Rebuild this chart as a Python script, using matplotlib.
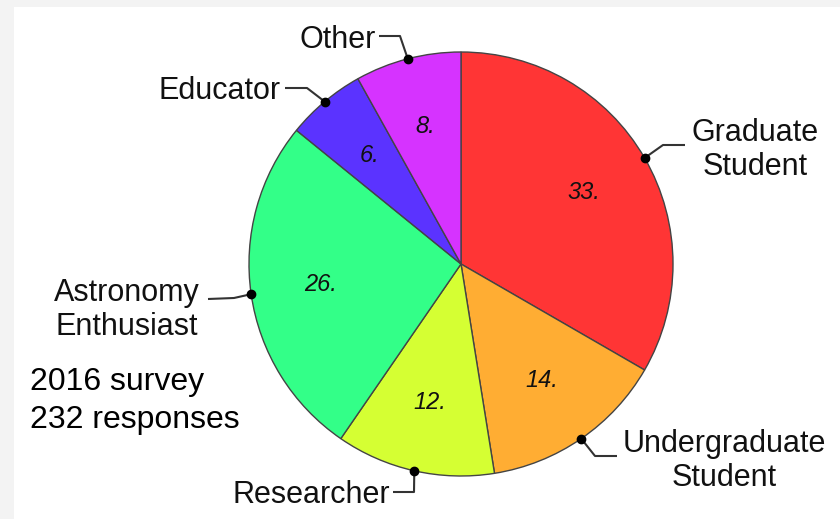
import matplotlib.pyplot as plt
from matplotlib.patches import Rectangle
import numpy as np

# === Survey data ===
categories = ["Graduate\nStudent", "Undergraduate\nStudent", "Researcher",
              "Astronomy\nEnthusiast", "Educator", "Other"]
values = [33, 14, 12, 26, 6, 8]
colors = ["#ff3535", "#ffad33", "#d5ff33", "#33ff88", "#5b33ff", "#d633ff"]
note_lines = ["2016 survey", "232 responses"]

# === Layout (pixel coordinates, y downward) ===
cx, cy, radius = 461, 264, 212
# elbow / end of each leader line, text anchor and alignment
leaders = [
    dict(elbow=(663, 145), end=(685, 145), text=(755, 150), ha="center"),
    dict(elbow=(595, 456), end=(617, 456), text=(724, 461), ha="center"),
    dict(elbow=(414, 492), end=(393, 492), text=(390, 495), ha="right"),
    dict(elbow=(234, 298), end=(208, 299), text=(127, 310), ha="center"),
    dict(elbow=(307, 88), end=(285, 88), text=(281, 91), ha="right"),
    dict(elbow=(400, 36), end=(379, 36), text=(376, 40), ha="right"),
]

plt.rcParams["font.family"] = ["Liberation Sans", "DejaVu Sans"]

fig = plt.figure(figsize=(8.4, 5.19), dpi=100, facecolor="#f3f3f3")
ax = fig.add_axes([0, 0, 1, 1])

wedges, _ = ax.pie(values, colors=colors, center=(cx, cy), radius=radius,
                   startangle=-90, counterclock=True,
                   wedgeprops=dict(edgecolor="#444444", linewidth=1.0))

ax.set_xlim(0, 840)
ax.set_ylim(519, 0)
ax.set_aspect("equal")
ax.axis("off")

# weisser Hintergrund hinter dem Diagramm
ax.add_patch(Rectangle((14, 7), 840, 519, facecolor="white",
                       edgecolor="none", zorder=-5))

for w, val, lab, ld in zip(wedges, values, categories, leaders):
    mid = np.deg2rad((w.theta1 + w.theta2) / 2)
    # Zahl im Segment
    ax.text(cx + 0.67 * radius * np.cos(mid), cy + 0.67 * radius * np.sin(mid),
            f"{val}.", fontsize=17, style="italic", ha="center", va="center",
            color="#111111")
    # Punkt am Rand + Fuehrungslinie
    px, py = cx + radius * np.cos(mid), cy + radius * np.sin(mid)
    ax.plot([px, ld["elbow"][0], ld["end"][0]], [py, ld["elbow"][1], ld["end"][1]],
            color="#333333", linewidth=1.5, solid_capstyle="butt", zorder=3)
    ax.plot(px, py, "o", color="black", markersize=6, zorder=4)
    ax.text(ld["text"][0], ld["text"][1], lab, fontsize=22, ha=ld["ha"],
            va="center", multialignment="center", linespacing=1.2,
            color="#111111")

ax.text(30, 401, "\n".join(note_lines), fontsize=23, ha="left", va="center",
        linespacing=1.35, color="black")

plt.savefig("out.png", dpi=100, facecolor=fig.get_facecolor())
